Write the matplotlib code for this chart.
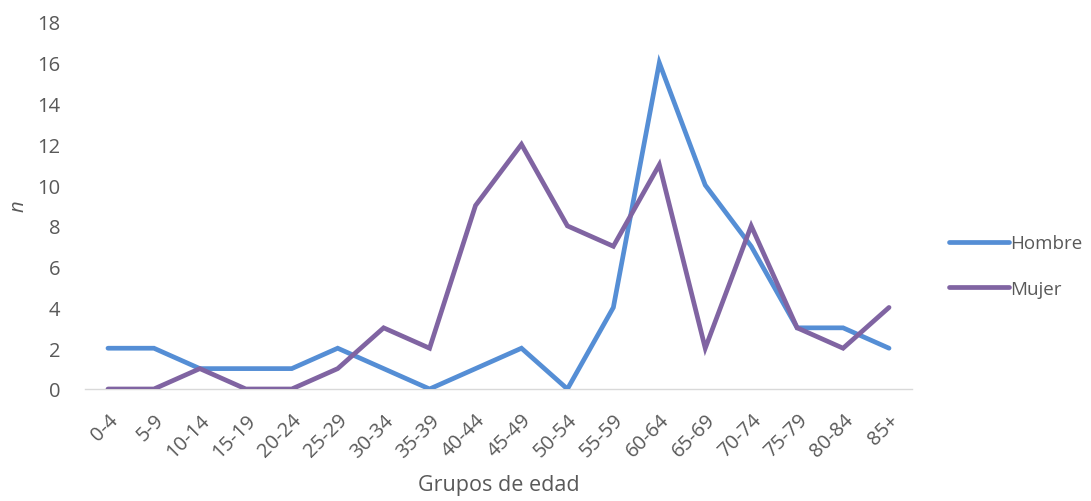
import matplotlib
matplotlib.use("Agg")
import matplotlib.pyplot as plt
from matplotlib.lines import Line2D

plt.rcParams["font.family"] = ["Open Sans", "DejaVu Sans"]

GROUPS = ["0-4", "5-9", "10-14", "15-19", "20-24", "25-29", "30-34", "35-39", "40-44",
          "45-49", "50-54", "55-59", "60-64", "65-69", "70-74", "75-79", "80-84", "85+"]
HOMBRE = [2, 2, 1, 1, 1, 2, 1, 0, 1, 2, 0, 4, 16, 10, 7, 3, 3, 2]
MUJER = [0, 0, 1, 0, 0, 1, 3, 2, 9, 12, 8, 7, 11, 2, 8, 3, 2, 4]
Y_TICKS = list(range(0, 19, 2))

BLUE = "#558ED5"
PURPLE = "#8064A2"
GRAY = "#595959"

W, H = 1091, 502
fig = plt.figure(figsize=(W / 100, H / 100), dpi=100)
ax = fig.add_axes([85 / W, 1 - 390 / H, (912 - 85) / W, (390 - 23) / H])

x = list(range(len(GROUPS)))
ax.plot(x, HOMBRE, color=BLUE, lw=3.4, solid_capstyle="round", solid_joinstyle="miter", zorder=3)
ax.plot(x, MUJER, color=PURPLE, lw=3.4, solid_capstyle="round", solid_joinstyle="miter", zorder=3)

ax.set_xlim(-0.5, len(GROUPS) - 0.5)
ax.set_ylim(0, 18)
ax.set_yticks(Y_TICKS)
ax.set_xticks(x)
ax.set_xticklabels(GROUPS, rotation=45, ha="right", rotation_mode="anchor")
ax.tick_params(axis="both", length=0, labelsize=14.5, colors=GRAY)
ax.tick_params(axis="y", pad=18)
ax.tick_params(axis="x", pad=15)

for s in ["top", "right", "left"]:
    ax.spines[s].set_visible(False)
ax.spines["bottom"].set_color("#D9D9D9")
ax.spines["bottom"].set_linewidth(1.0)

ax.set_ylabel("n", fontsize=14.5, color=GRAY, style="italic", labelpad=6)
ax.set_xlabel("Grupos de edad", fontsize=15.5, color=GRAY, labelpad=9)

handles = [Line2D([], [], color=BLUE, lw=3.4, solid_capstyle="round"),
           Line2D([], [], color=PURPLE, lw=3.4, solid_capstyle="round")]
fig.legend(handles, ["Hombre", "Mujer"], loc="center left", bbox_to_anchor=(932 / W, 1 - 267 / H),
           frameon=False, fontsize=13.5, labelcolor=GRAY, handlelength=3.2, handletextpad=0.05,
           labelspacing=1.45)

fig.savefig("out.png", dpi=100)
